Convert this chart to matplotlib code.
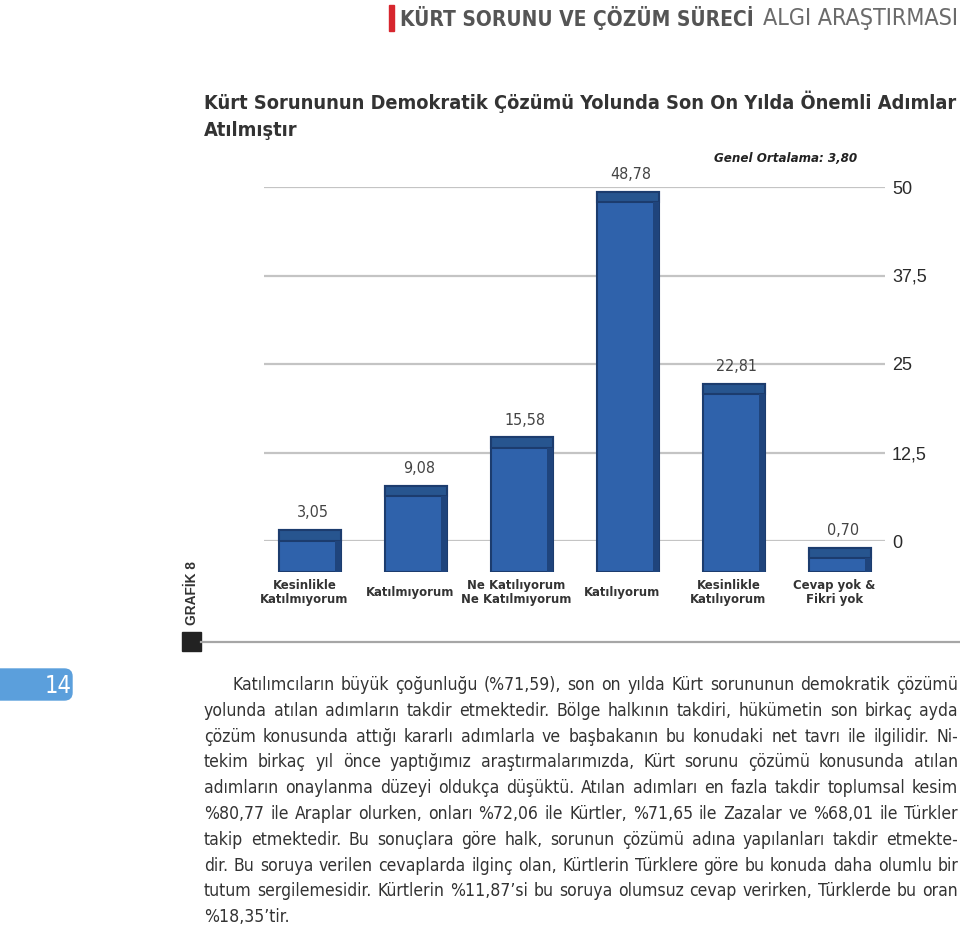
import matplotlib
matplotlib.use("Agg")
import matplotlib.pyplot as plt
from matplotlib import font_manager
from matplotlib.font_manager import FontProperties
from matplotlib.patches import Rectangle, FancyBboxPatch
from matplotlib.lines import Line2D
import numpy as np

# chart data
categories = ["Kesinlikle\nKatılmıyorum", "Katılmıyorum", "Ne Katılıyorum\nNe Katılmıyorum",
              "Katılıyorum", "Kesinlikle\nKatılıyorum", "Cevap yok &\nFikri yok"]
values = np.array([3.05, 9.08, 15.58, 48.78, 22.81, 0.70])
value_labels = ["3,05", "9,08", "15,58", "48,78", "22,81", "0,70"]
grid_ticks = [0, 12.5, 25, 37.5, 50]
grid_labels = ["0", "12,5", "25", "37,5", "50"]

header_bold = "KÜRT SORUNU VE ÇÖZÜM SÜRECİ"
header_light = "ALGI ARAŞTIRMASI"
title_lines = ["Kürt Sorununun Demokratik Çözümü Yolunda Son On Yılda Önemli Adımlar",
               "Atılmıştır"]
average_note = "Genel Ortalama: 3,80"
page_number = "14"
body_lines = [
    "Katılımcıların büyük çoğunluğu (%71,59), son on yılda Kürt sorununun demokratik çözümü",
    "yolunda atılan adımların takdir etmektedir. Bölge halkının takdiri, hükümetin son birkaç ayda",
    "çözüm konusunda attığı kararlı adımlarla ve başbakanın bu konudaki net tavrı ile ilgilidir. Ni-",
    "tekim birkaç yıl önce yaptığımız araştırmalarımızda, Kürt sorunu çözümü konusunda atılan",
    "adımların onaylanma düzeyi oldukça düşüktü. Atılan adımları en fazla takdir toplumsal kesim",
    "%80,77 ile Araplar olurken, onları %72,06 ile Kürtler, %71,65 ile Zazalar ve %68,01 ile Türkler",
    "takip etmektedir. Bu sonuçlara göre halk, sorunun çözümü adına yapılanları takdir etmekte-",
    "dir. Bu soruya verilen cevaplarda ilginç olan, Kürtlerin Türklere göre bu konuda daha olumlu bir",
    "tutum sergilemesidir. Kürtlerin %11,87’si bu soruya olumsuz cevap verirken, Türklerde bu oran",
    "%18,35’tir.",
]

W, H = 960, 925


def narrow_font(bold=False, italic=False):
    # look for an installed condensed sans face, fall back to Roboto
    want_w = 700 if bold else 400
    for f in font_manager.fontManager.ttflist:
        if "Serif" in f.name or "Mono" in f.name:
            continue
        condensed = (f.stretch in ("condensed", "semi-condensed", "extra-condensed")
                     or "Narrow" in f.name or "Condensed" in f.name)
        w = f.weight if isinstance(f.weight, int) else font_manager.weight_dict.get(f.weight, 400)
        slanted = f.style in ("italic", "oblique")
        if condensed and abs(w - want_w) < 100 and slanted == italic:
            return FontProperties(fname=f.fname)
    return FontProperties(family="Roboto", weight="bold" if bold else "normal",
                          style="italic" if italic else "normal")


F_REG = narrow_font()
F_BOLD = narrow_font(bold=True)
F_BOLD_IT = narrow_font(bold=True, italic=True)
PLAIN = "Liberation Sans"


def fx(x):
    return x / W


def fy(y):
    return 1 - y / H


fig = plt.figure(figsize=(W / 100, H / 100), dpi=100)
fig.patch.set_facecolor("white")
renderer = fig.canvas.get_renderer()


def fit(texts, ref, target, size0, axis="width"):
    # scale a group of texts so that `ref` spans `target` pixels
    for t in texts:
        t.set_fontsize(size0)
    bb = ref.get_window_extent(renderer)
    scale = target / (bb.width if axis == "width" else bb.height)
    for t in texts:
        t.set_fontsize(size0 * scale)


# header
fig.patches.append(Rectangle((fx(389), fy(31)), fx(5), 26 / H, color="#d7262e",
                             transform=fig.transFigure))
hb = fig.text(fx(400), fy(18), header_bold, fontproperties=F_BOLD,
              color="#555555", va="center", ha="left")
hl = fig.text(fx(958), fy(18), header_light, fontproperties=F_REG,
              color="#6b6b6b", va="center", ha="right")
fit([hb], hb, 354, 18)
fit([hl], hl, 196, 18)

# title
t1 = fig.text(fx(204), fy(102), title_lines[0], fontproperties=F_BOLD,
              color="#333333", va="center")
t2 = fig.text(fx(204), fy(131), title_lines[1], fontproperties=F_BOLD,
              color="#333333", va="center")
fit([t1, t2], t1, 752, 17)
fig.text(fx(857), fy(158), average_note, fontproperties=F_BOLD_IT, size=9.5,
         color="#222222", va="center", ha="right")

# grid axes (0 at y=541, 50 at y=187)
ax_grid = fig.add_axes([fx(264), fy(541), (885 - 264) / W, (541 - 187) / H])
ax_grid.set_ylim(0, 50)
ax_grid.set_xlim(0, 1)
for t in grid_ticks:
    ax_grid.axhline(t, color="#c4c4c4", lw=1.6, zorder=0)
ax_grid.set_yticks(grid_ticks)
ax_grid.set_yticklabels(grid_labels, family=PLAIN, size=13, color="#2a2a2a")
ax_grid.yaxis.tick_right()
ax_grid.tick_params(axis="y", length=0, pad=5)
ax_grid.set_xticks([])
for s in ax_grid.spines.values():
    s.set_visible(False)
ax_grid.patch.set_alpha(0)

# bar axes (value 0 at y=553, front faces drop to y=572)
depth = 2.6
px_per_unit = 7.4
ax_bar = fig.add_axes([fx(240), fy(572), (900 - 240) / W, (572 - 187) / H])
ax_bar.set_ylim(-depth, -depth + (572 - 187) / px_per_unit)
x = np.arange(len(values))
ax_bar.set_xlim(-70 / 106, (900 - 310) / 106)
ax_bar.patch.set_alpha(0)
ax_bar.axis("off")

ax_bar.bar(x, values + depth, bottom=-depth, width=0.59, color="#2f62ab",
           edgecolor="#1c3c6e", linewidth=1.5, zorder=3)
cap = 1.4
ax_bar.bar(x, np.full(len(values), cap), bottom=values - cap, width=0.59,
           color="#27558f", edgecolor="#1c3c6e", linewidth=1.5, zorder=4)
ax_bar.bar(x + 0.265, values + depth - cap, bottom=-depth, width=0.06,
           color="#1f447c", linewidth=0, zorder=4)

for xi, v, lab in zip(x, values, value_labels):
    ax_bar.annotate(lab, (xi, v), xytext=(2, 7), textcoords="offset points",
                    ha="center", va="bottom", fontproperties=F_REG, size=11.5,
                    color="#444444")

cat_texts = [ax_bar.annotate(c, (xi, -depth), xytext=(-4, -15), textcoords="offset points",
                             ha="center", va="center", fontproperties=F_BOLD,
                             color="#333333", linespacing=1.1, annotation_clip=False)
             for xi, c in zip(x, categories)]
fit(cat_texts, cat_texts[2], 110, 12)

# side marker and rule
gt = fig.text(fx(192), fy(593), "GRAFİK 8", family=PLAIN, weight="bold",
              color="#333333", rotation=90, ha="center", va="center")
fit([gt], gt, 64, 10, axis="height")
fig.patches.append(Rectangle((fx(182), fy(651)), fx(19), 19 / H, color="#222222",
                             transform=fig.transFigure))
fig.lines.append(Line2D([fx(201), 1], [fy(642), fy(642)], color="#a6a6a6", lw=1.6,
                        transform=fig.transFigure))

# page tab
fig.patches.append(FancyBboxPatch((fx(-20), fy(700)), fx(92), 31 / H,
                                  boxstyle="round,pad=0,rounding_size=0.008",
                                  color="#5b9fdc", transform=fig.transFigure))
fig.text(fx(58), fy(686), page_number, fontproperties=F_REG, size=17, color="white",
         ha="center", va="center")

# body text: pick a size that makes the longest line fit, then justify
left, right = 204, 958
probe = [fig.text(0, 0, ln, fontproperties=F_REG) for ln in body_lines]
for p in probe:
    p.set_fontsize(14)
widest = max(p.get_window_extent(renderer).width for p in probe)
body_size = 14 * (right - left) * 0.995 / widest
for p in probe:
    p.remove()

for i, line in enumerate(body_lines):
    y = fy(685 + i * 25.8)
    x0 = 232 if i == 0 else left
    if i == len(body_lines) - 1:
        fig.text(fx(x0), y, line, fontproperties=F_REG, size=body_size,
                 color="#333333", va="center")
        continue
    words = line.split()
    texts = [fig.text(0, y, w, fontproperties=F_REG, size=body_size,
                      color="#333333", va="center") for w in words]
    widths = [t.get_window_extent(renderer).width for t in texts]
    gap = (right - x0 - sum(widths)) / (len(words) - 1)
    xpos = x0
    for t, w in zip(texts, widths):
        t.set_x(fx(xpos))
        xpos += w + gap

fig.savefig("out.png", dpi=100, facecolor="white")
